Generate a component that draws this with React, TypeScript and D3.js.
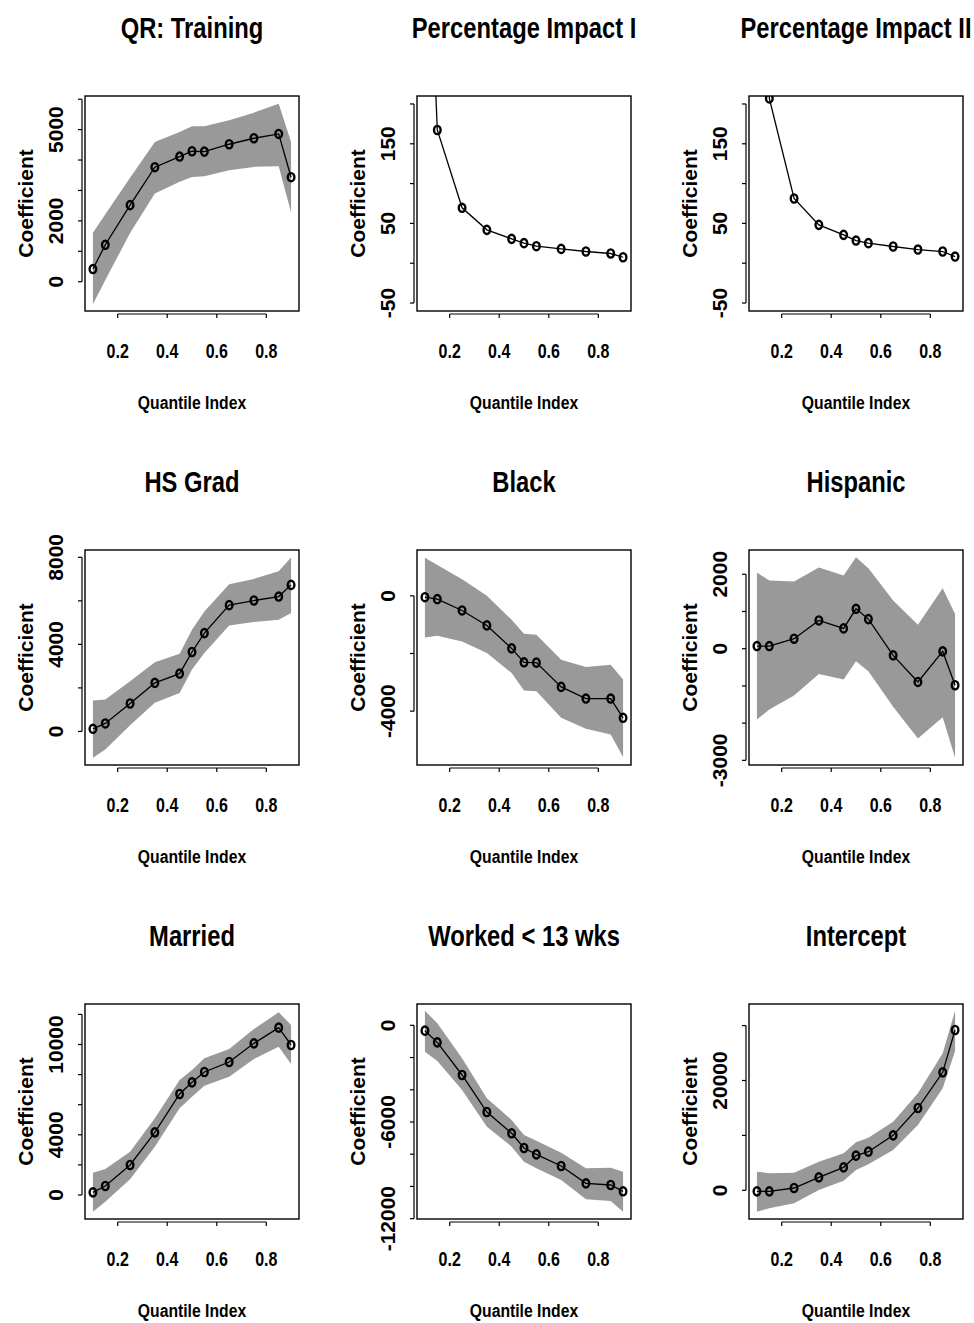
import React from "react";
import * as d3 from "d3";

// Quantile index (tau) values
const taus = [0.1, 0.15, 0.25, 0.35, 0.45, 0.5, 0.55, 0.65, 0.75, 0.85, 0.9];
const xTicks = [0.2, 0.4, 0.6, 0.8];
const xLimits = [0.068, 0.932];

// QR: Training
const trainingCoef = [416, 1214, 2516, 3764, 4114, 4289, 4278, 4519, 4716, 4858, 3435];
const trainingHi = [1608, 2221, 3414, 4595, 4923, 5109, 5109, 5306, 5558, 5853, 4595];
const trainingLo = [-744, 55, 1600, 2899, 3282, 3446, 3468, 3665, 3775, 3796, 2276];
const trainingYlim = [-963, 6105];
const trainingTicks = [0, 1000, 2000, 3000, 4000, 5000, 6000];
const trainingLabels = [0, 2000, 5000];

// Percentage Impact I
const pct1Coef = [540, 167.3, 69.6, 41.9, 30.6, 25.2, 21.4, 18.0, 14.7, 12.2, 7.5];
const pct1Ylim = [-60, 210];
const pct1Ticks = [-50, 0, 50, 100, 150, 200];
const pct1Labels = [-50, 50, 150];

// Percentage Impact II
const pct2Coef = [600, 207, 81.3, 48.2, 35.6, 28.5, 25.2, 21.0, 17.2, 14.7, 8.4];
const pct2Ylim = [-60, 210];
const pct2Ticks = [-50, 0, 50, 100, 150, 200];
const pct2Labels = [-50, 50, 150];

// HS Grad
const hsCoef = [122, 366, 1283, 2229, 2657, 3649, 4519, 5802, 6015, 6198, 6733];
const hsHi = [1420, 1466, 2306, 3176, 3573, 4672, 5512, 6764, 7009, 7360, 7986];
const hsLo = [-1206, -825, 280, 1313, 1771, 2840, 3604, 4871, 5024, 5131, 5436];
const hsYlim = [-1542, 8336];
const hsTicks = [0, 2000, 4000, 6000, 8000];
const hsLabels = [0, 4000, 8000];

// Black
const blackCoef = [-46, -115, -507, -1026, -1822, -2306, -2318, -3159, -3563, -3563, -4231];
const blackHi = [1326, 1072, 577, 0, -830, -1314, -1349, -2214, -2467, -2387, -2906];
const blackLo = [-1441, -1384, -1580, -1983, -2675, -3286, -3309, -4231, -4612, -4808, -5592];
const blackYlim = [-5869, 1591];
const blackTicks = [-4000, -2000, 0];
const blackLabels = [-4000, 0];

// Hispanic
const hispCoef = [71, 71, 268, 759, 545, 1072, 795, -179, -893, -71, -982];
const hispHi = [2045, 1831, 1804, 2179, 1965, 2456, 2161, 1295, 643, 1625, 929];
const hispLo = [-1902, -1634, -1259, -679, -830, -339, -607, -1563, -2411, -1840, -2929];
const hispYlim = [-3125, 2652];
const hispTicks = [-3000, -2000, -1000, 0, 1000, 2000];
const hispLabels = [-3000, 0, 2000];

// Married
const marriedCoef = [177, 598, 1994, 4164, 6712, 7487, 8173, 8838, 10078, 11119, 9968];
const marriedHi = [1484, 1728, 2880, 5095, 7642, 8306, 9082, 9702, 11031, 12138, 11297];
const marriedLo = [-1108, -443, 1041, 3212, 5759, 6534, 7265, 7863, 9037, 9857, 8705];
const marriedYlim = [-1595, 12692];
const marriedTicks = [0, 2000, 4000, 6000, 8000, 10000, 12000];
const marriedLabels = [0, 4000, 10000];

// Worked < 13 wks
const workedCoef = [-331, -1055, -3083, -5379, -6703, -7614, -8007, -8731, -9807, -9910, -10303];
const workedHi = [910, 124, -2048, -4531, -5876, -6807, -7159, -7904, -8876, -8835, -9083];
const workedLo = [-1634, -2214, -4014, -6290, -7531, -8462, -8876, -9600, -10800, -10904, -11566];
const workedYlim = [-12021, 1324];
const workedTicks = [-12000, -10000, -8000, -6000, -4000, -2000, 0];
const workedLabels = [-12000, -6000, 0];

// Intercept
const interceptCoef = [-182, -182, 425, 2367, 4188, 6313, 7041, 10016, 14993, 21488, 29197];
const interceptHi = [3399, 3096, 3217, 5220, 6738, 8741, 9591, 12504, 17664, 24948, 32718];
const interceptLo = [-3885, -3278, -2367, 61, 1760, 3703, 4735, 7345, 11897, 18574, 25373];
const interceptYlim = [-5220, 33933];
const interceptTicks = [0, 10000, 20000, 30000];
const interceptLabels = [0, 20000];

const panels = [
  { title: "QR: Training", coef: trainingCoef, hi: trainingHi, lo: trainingLo, ylim: trainingYlim, ticks: trainingTicks, labels: trainingLabels },
  { title: "Percentage Impact I", coef: pct1Coef, hi: null, lo: null, ylim: pct1Ylim, ticks: pct1Ticks, labels: pct1Labels },
  { title: "Percentage Impact II", coef: pct2Coef, hi: null, lo: null, ylim: pct2Ylim, ticks: pct2Ticks, labels: pct2Labels },
  { title: "HS Grad", coef: hsCoef, hi: hsHi, lo: hsLo, ylim: hsYlim, ticks: hsTicks, labels: hsLabels },
  { title: "Black", coef: blackCoef, hi: blackHi, lo: blackLo, ylim: blackYlim, ticks: blackTicks, labels: blackLabels },
  { title: "Hispanic", coef: hispCoef, hi: hispHi, lo: hispLo, ylim: hispYlim, ticks: hispTicks, labels: hispLabels },
  { title: "Married", coef: marriedCoef, hi: marriedHi, lo: marriedLo, ylim: marriedYlim, ticks: marriedTicks, labels: marriedLabels },
  { title: "Worked < 13 wks", coef: workedCoef, hi: workedHi, lo: workedLo, ylim: workedYlim, ticks: workedTicks, labels: workedLabels },
  { title: "Intercept", coef: interceptCoef, hi: interceptHi, lo: interceptLo, ylim: interceptYlim, ticks: interceptTicks, labels: interceptLabels },
];

const COL_LEFT = [85, 417, 749];
const ROW_TOP = [96, 550, 1004];
const W = 214;
const H = 215;
const FONT = "'Liberation Sans', Arial, Helvetica, sans-serif";
const NARROW_X = 0.82;

function NarrowText({ x, y, size, children }: { x: number; y: number; size: number; children: any }) {
  return (
    <text
      transform={`translate(${x},${y}) scale(${NARROW_X},1)`}
      textAnchor="middle"
      fontFamily={FONT}
      fontWeight="bold"
      fontSize={size}
      fill="#000"
    >
      {children}
    </text>
  );
}

function Panel({ p, idx }: { p: any; idx: number }) {
  const L = COL_LEFT[idx % 3];
  const T = ROW_TOP[Math.floor(idx / 3)];
  const x = d3.scaleLinear().domain(xLimits).range([0, W]);
  const y = d3.scaleLinear().domain(p.ylim).range([H, 0]);
  const clipId = `clip-${idx}`;
  const pts = taus.map((t, i) => [t, p.coef[i]] as [number, number]);
  const line = d3.line<[number, number]>().x((d) => x(d[0])).y((d) => y(d[1]));
  let band: string | null = null;
  if (p.hi && p.lo) {
    const area = d3
      .area<number>()
      .x((_, i) => x(taus[i]))
      .y0((_, i) => y(p.lo[i]))
      .y1((_, i) => y(p.hi[i]));
    band = area(taus) as string;
  }
  const tks: number[] = p.ticks;
  const yMin = y(d3.min(tks) as number);
  const yMax = y(d3.max(tks) as number);
  return (
    <g transform={`translate(${L},${T})`}>
      <defs>
        <clipPath id={clipId}>
          <rect x={0} y={0} width={W} height={H} />
        </clipPath>
      </defs>
      <NarrowText x={W / 2} y={-58} size={29}>
        {p.title}
      </NarrowText>
      <g clipPath={`url(#${clipId})`}>
        {band && <path d={band} fill="#999999" stroke="none" />}
        <path d={line(pts) as string} fill="none" stroke="#000" strokeWidth={1.3} />
        {pts.map((d, i) => (
          <ellipse
            key={i}
            cx={x(d[0])}
            cy={y(d[1])}
            rx={3.3}
            ry={4.1}
            fill="none"
            stroke="#000"
            strokeWidth={2.4}
          />
        ))}
      </g>
      <rect x={0} y={0} width={W} height={H} fill="none" stroke="#000" strokeWidth={1.4} />
      {/* y axis */}
      <line x1={-3} x2={-3} y1={yMin} y2={yMax} stroke="#000" strokeWidth={1.2} />
      {tks.map((t) => (
        <line key={t} x1={-7} x2={-3} y1={y(t)} y2={y(t)} stroke="#000" strokeWidth={1.2} />
      ))}
      {p.labels.map((t: number) => (
        <text
          key={t}
          transform={`translate(-22,${y(t)}) rotate(-90)`}
          textAnchor="middle"
          fontFamily={FONT}
          fontWeight="bold"
          fontSize={21}
          fill="#000"
        >
          {String(t)}
        </text>
      ))}
      <text
        transform={`translate(-52,${H / 2}) rotate(-90)`}
        textAnchor="middle"
        fontFamily={FONT}
        fontWeight="bold"
        fontSize={21}
        fill="#000"
      >
        Coefficient
      </text>
      {/* x axis */}
      <line x1={x(xTicks[0])} x2={x(xTicks[xTicks.length - 1])} y1={H + 3} y2={H + 3} stroke="#000" strokeWidth={1.2} />
      {xTicks.map((t) => (
        <line key={t} x1={x(t)} x2={x(t)} y1={H + 3} y2={H + 7} stroke="#000" strokeWidth={1.2} />
      ))}
      {xTicks.map((t) => (
        <NarrowText key={t} x={x(t)} y={H + 47} size={19.5}>
          {d3.format(".1f")(t)}
        </NarrowText>
      ))}
      <NarrowText x={W / 2} y={H + 98} size={19.2}>
        Quantile Index
      </NarrowText>
    </g>
  );
}

export default function App() {
  return (
    <svg
      width={974}
      height={1323}
      viewBox="0 0 974 1323"
      style={{ position: "absolute", left: 0, top: 0, background: "#fff" }}
    >
      <rect x={0} y={0} width={974} height={1323} fill="#fff" />
      {panels.map((p, i) => (
        <Panel key={i} p={p} idx={i} />
      ))}
    </svg>
  );
}
